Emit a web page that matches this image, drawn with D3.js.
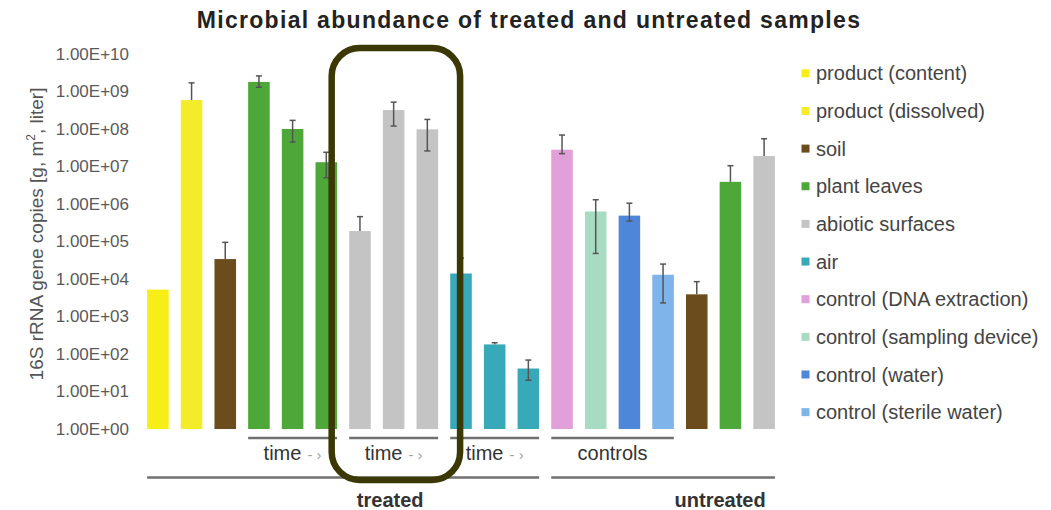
<!DOCTYPE html>
<html>
<head>
<meta charset="utf-8">
<script src="https://cdn.jsdelivr.net/npm/d3@7"></script>
<style>
  html, body { margin: 0; padding: 0; background: #ffffff; }
  svg { display: block; font-family: "Liberation Sans", Arial, sans-serif; }
</style>
</head>
<body>
<svg id="chart" width="1051" height="510"></svg>
<script>
// ---------- data ----------
const legendLabels = [
  "product (content)", "product (dissolved)", "soil", "plant leaves",
  "abiotic surfaces", "air", "control (DNA extraction)",
  "control (sampling device)", "control (water)", "control (sterile water)"
];
const legendColors = [
  "#f6ee16", "#f4ec2a", "#6b4c1c", "#4da739", "#c4c4c4",
  "#37a9b9", "#e1a0d9", "#a8dcc2", "#4e87d9", "#7fb4ea"
];
const barIds = d3.range(19);
const barTypes = [
  "product (content)", "product (dissolved)", "soil",
  "plant leaves", "plant leaves", "plant leaves",
  "abiotic surfaces", "abiotic surfaces", "abiotic surfaces",
  "air", "air", "air",
  "control (DNA extraction)", "control (sampling device)", "control (water)", "control (sterile water)",
  "soil", "plant leaves", "abiotic surfaces"
];
const barValues = [5.2e3, 5.9e8, 3.4e4, 1.8e9, 1.0e8, 1.3e7, 1.9e5, 3.2e8, 9.8e7,
                   1.4e4, 1.8e2, 41, 2.8e7, 6.3e5, 4.9e5, 1.3e4, 3.9e3, 3.9e6, 1.9e7];
const errHigh   = [null, 1.7e9, 9.5e4, 2.6e9, 1.7e8, 2.4e7, 4.6e5, 5.2e8, 1.8e8,
                   3.6e4, 2.0e2, 69, 6.9e7, 1.3e6, 1.05e6, 2.5e4, 8.5e3, 1.05e7, 5.5e7];
const errLow    = [null, null, null, 1.3e9, 4.5e7, 5e6, null, 1.2e8, 2.6e7,
                   null, null, 20, 2.2e7, 4.8e4, 3.5e5, 2.3e3, null, null, null];
const tickValues = [1, 1e1, 1e2, 1e3, 1e4, 1e5, 1e6, 1e7, 1e8, 1e9, 1e10];
const tickLabels = ["1.00E+00", "1.00E+01", "1.00E+02", "1.00E+03", "1.00E+04", "1.00E+05",
                    "1.00E+06", "1.00E+07", "1.00E+08", "1.00E+09", "1.00E+10"];
const subGroupLabels = ["time", "time", "time", "controls"];
const subGroupArrow  = [true, true, true, false];
const subGroupStart  = [3, 6, 9, 12];
const subGroupEnd    = [5, 8, 11, 15];
const mainGroupLabels = ["treated", "untreated"];
const mainGroupStart  = [0, 12];
const mainGroupEnd    = [11, 18];
const titleText = "Microbial abundance of treated and untreated samples";

// ---------- scales ----------
const svg = d3.select("#chart");
const x = d3.scaleBand().domain(barIds).range([136, 786]).paddingInner(0.36).paddingOuter(0.33);
const y = d3.scaleLog().domain([1, 1e10]).range([429, 54]);
const color = d3.scaleOrdinal().domain(legendLabels).range(legendColors);
const bw = x.bandwidth();

// title
svg.append("text").attr("x", 529).attr("y", 28).attr("text-anchor", "middle")
  .attr("font-size", 23).attr("font-weight", "bold").attr("letter-spacing", 1.3)
  .attr("fill", "#222").text(titleText);

// y axis (labels only)
const yAxis = d3.axisLeft(y).tickValues(tickValues)
  .tickFormat((d, i) => tickLabels[i]).tickSize(0).tickPadding(0);
const gy = svg.append("g").attr("transform", "translate(129,0)").call(yAxis);
gy.select(".domain").remove();
gy.selectAll("text").attr("font-size", 17).attr("fill", "#5a5a5a")
  .attr("font-family", "'Liberation Sans', Arial, sans-serif");

// y axis title
const yt = svg.append("text").attr("transform", "translate(43,234) rotate(-90)")
  .attr("text-anchor", "middle").attr("font-size", 19).attr("fill", "#555");
yt.append("tspan").text("16S rRNA gene copies [g, m");
yt.append("tspan").attr("font-size", 12).attr("dy", -8).text("2");
yt.append("tspan").attr("dy", 8).text(", liter]");

// bars
svg.append("g").selectAll("rect").data(barIds).join("rect")
  .attr("x", i => x(i)).attr("width", bw)
  .attr("y", i => y(barValues[i]))
  .attr("height", i => y(1) - y(barValues[i]))
  .attr("fill", i => color(barTypes[i]));

// error bars
const eg = svg.append("g").attr("stroke", "#555").attr("stroke-width", 1.5);
barIds.forEach(i => {
  if (errHigh[i] == null) return;
  const cx = x(i) + bw / 2;
  const lo = errLow[i] != null ? errLow[i] : barValues[i];
  eg.append("line").attr("x1", cx).attr("x2", cx).attr("y1", y(lo)).attr("y2", y(errHigh[i]));
  eg.append("line").attr("x1", cx - 3).attr("x2", cx + 3).attr("y1", y(errHigh[i])).attr("y2", y(errHigh[i]));
  if (errLow[i] != null) {
    eg.append("line").attr("x1", cx - 3).attr("x2", cx + 3).attr("y1", y(errLow[i])).attr("y2", y(errLow[i]));
  }
});

// sub-group brackets
subGroupLabels.forEach((lab, k) => {
  const x0 = x(subGroupStart[k]), x1 = x(subGroupEnd[k]) + bw;
  svg.append("line").attr("x1", x0).attr("x2", x1).attr("y1", 438).attr("y2", 438)
    .attr("stroke", "#707070").attr("stroke-width", 2.5);
  const t = svg.append("text").attr("x", (x0 + x1) / 2).attr("y", 460)
    .attr("text-anchor", "middle").attr("font-size", 20).attr("fill", "#333");
  t.append("tspan").text(lab);
  if (subGroupArrow[k]) {
    t.append("tspan").attr("font-size", 15).attr("fill", "#a0a0a0").attr("dx", 6).text("- ›");
  }
});

// main groups
const mainLabelFrac = [0.62, 0.755];
mainGroupLabels.forEach((lab, k) => {
  const x0 = x(mainGroupStart[k]), x1 = x(mainGroupEnd[k]) + bw;
  svg.append("line").attr("x1", x0).attr("x2", x1).attr("y1", 477.5).attr("y2", 477.5)
    .attr("stroke", "#707070").attr("stroke-width", 2.5);
  svg.append("text").attr("x", x0 + mainLabelFrac[k] * (x1 - x0)).attr("y", 507)
    .attr("text-anchor", "middle").attr("font-size", 20).attr("font-weight", "bold")
    .attr("fill", "#333").text(lab);
});

// legend
const lg = svg.append("g");
legendLabels.forEach((lab, k) => {
  const cy = 73.3 + k * 37.65;
  lg.append("rect").attr("x", 801.5).attr("y", cy - 4).attr("width", 8).attr("height", 8)
    .attr("fill", legendColors[k]);
  lg.append("text").attr("x", 816).attr("y", cy).attr("dy", "0.35em")
    .attr("font-size", 20).attr("fill", "#444").text(lab);
});

// highlight box
svg.append("rect")
  .attr("x", x(6) - 17.5).attr("y", y(1e10) - 6)
  .attr("width", (x(8) + bw + 22) - (x(6) - 17.5))
  .attr("height", 480 - (y(1e10) - 6))
  .attr("rx", 28).attr("ry", 28)
  .attr("fill", "none").attr("stroke", "#3b3805").attr("stroke-width", 6.5);
</script>
</body>
</html>
